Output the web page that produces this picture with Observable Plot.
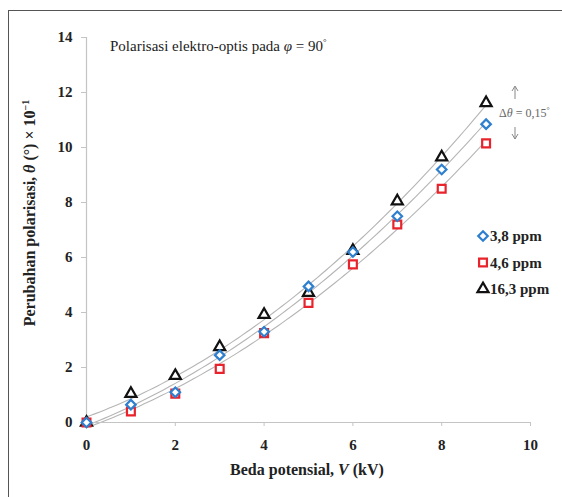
<!DOCTYPE html>
<html>
<head>
<meta charset="utf-8">
<script src="https://cdn.jsdelivr.net/npm/d3@7"></script>
<script src="https://cdn.jsdelivr.net/npm/@observablehq/plot@0.6"></script>
<style>
  html, body { margin: 0; padding: 0; background: #fff; }
  #wrap { position: relative; width: 562px; height: 497px; overflow: hidden; }
  #frame { position: absolute; left: 8px; top: 10px; width: 600px; height: 600px;
           border-top: 1.5px solid #555; border-left: 1.5px solid #555; pointer-events: none; }
  #wrap svg { position: absolute; left: 0; top: 0; }
</style>
</head>
<body>
<div id="wrap"><div id="frame"></div></div>
<script>
// Data
const voltage = [0, 1, 2, 3, 4, 5, 6, 7, 8, 9];
const seriesNames = ["3,8 ppm", "4,6 ppm", "16,3 ppm"];
const theta38  = [0, 0.65, 1.10, 2.45, 3.30, 4.95, 6.20, 7.50, 9.20, 10.85];
const theta46  = [0, 0.40, 1.05, 1.95, 3.25, 4.35, 5.75, 7.20, 8.50, 10.15];
const theta163 = [0, 1.05, 1.70, 2.75, 3.92, 4.72, 6.25, 8.05, 9.65, 11.62];
const xTicks = [0, 2, 4, 6, 8, 10];
const yTicks = [0, 2, 4, 6, 8, 10, 12, 14];

const colors = {"3,8 ppm": "#2f7fcf", "4,6 ppm": "#e8232b", "16,3 ppm": "#111111"};
const symbols = {"3,8 ppm": "diamond2", "4,6 ppm": "square2", "16,3 ppm": "triangle2"};
const radii = {"3,8 ppm": 4.3, "4,6 ppm": 5, "16,3 ppm": 5.3};

const seriesValues = [theta38, theta46, theta163];
const points = [];
seriesNames.forEach((s, i) => voltage.forEach((v, j) => points.push({series: s, V: v, theta: seriesValues[i][j]})));

// quadratic least-squares trend line for each series
function quadFit(xs, ys) {
  let S = Array(5).fill(0), T = Array(3).fill(0);
  xs.forEach((x, i) => {
    for (let k = 0; k < 5; k++) S[k] += x ** k;
    for (let k = 0; k < 3; k++) T[k] += ys[i] * x ** k;
  });
  const A = [[S[0], S[1], S[2], T[0]], [S[1], S[2], S[3], T[1]], [S[2], S[3], S[4], T[2]]];
  for (let c = 0; c < 3; c++) {
    for (let r = c + 1; r < 3; r++) {
      const f = A[r][c] / A[c][c];
      for (let k = c; k < 4; k++) A[r][k] -= f * A[c][k];
    }
  }
  const b = [0, 0, 0];
  for (let r = 2; r >= 0; r--) {
    let s = A[r][3];
    for (let k = r + 1; k < 3; k++) s -= A[r][k] * b[k];
    b[r] = s / A[r][r];
  }
  return x => b[0] + b[1] * x + b[2] * x * x;
}
const trend = [];
seriesNames.forEach((s, i) => {
  const f = quadFit(voltage, seriesValues[i]);
  d3.range(0, 9.001, 0.1).forEach(x => trend.push({series: s, V: x, theta: f(x)}));
});

const font = "'Liberation Serif', 'Times New Roman', serif";

const plot = Plot.plot({
  width: 562,
  height: 497,
  marginLeft: 86,
  marginRight: 32,
  marginTop: 37,
  marginBottom: 75,
  style: {fontFamily: font, background: "transparent", overflow: "visible"},
  x: {domain: [0, 10]},
  y: {domain: [0, 14]},
  r: {type: "identity"},
  symbol: {type: "identity"},
  color: {type: "identity"},
  marks: [
    Plot.line(trend, {x: "V", y: "theta", z: "series", stroke: "#b5b5b5", strokeWidth: 1.1}),
    Plot.ruleY([0], {stroke: "#c4c4c4", strokeWidth: 1.2}),
    Plot.ruleX([0], {stroke: "#c4c4c4", strokeWidth: 1.2}),
    Plot.axisX({ticks: xTicks, tickSize: 4, tickPadding: 13, stroke: "#c4c4c4",
      tickFormat: d => String(d), label: null, fontSize: 15, fontWeight: "bold", fill: "#222"}),
    Plot.axisY({ticks: yTicks, tickSize: 5, tickPadding: 9, stroke: "#c4c4c4",
      tickFormat: d => String(d), label: null, fontSize: 15, fontWeight: "bold", fill: "#222"}),
    Plot.dot(points, {x: "V", y: "theta",
      symbol: d => symbols[d.series], r: d => radii[d.series],
      stroke: d => colors[d.series], fill: "white", strokeWidth: 2.2})
  ]
});

document.getElementById("wrap").appendChild(plot);
const svg = d3.select(plot);
const g = svg.append("g").attr("text-anchor", "start");

// Title
const title = g.append("text").attr("x", 110).attr("y", 51)
  .attr("font-family", font).attr("font-size", 15).attr("fill", "#222");
title.append("tspan").text("Polarisasi elektro-optis pada ");
title.append("tspan").attr("font-style", "italic").text("φ");
title.append("tspan").text(" = 90");
title.append("tspan").attr("font-size", 9).attr("dy", -6).text("°");

// Y label
const yl = svg.append("text").attr("transform", "translate(35,213) rotate(-90)")
  .attr("text-anchor", "middle").attr("font-family", font).attr("font-size", 16)
  .attr("font-weight", "bold").attr("fill", "#222");
yl.append("tspan").text("Perubahan polarisasi, ");
yl.append("tspan").attr("font-style", "italic").text("θ");
yl.append("tspan").text(" (°) × 10");
yl.append("tspan").attr("font-size", 10).attr("dy", -6).text("−1");

// X label
const xl = svg.append("text").attr("x", 307).attr("y", 475).attr("text-anchor", "middle")
  .attr("font-family", font).attr("font-size", 16).attr("font-weight", "bold").attr("fill", "#222");
xl.append("tspan").text("Beda potensial, ");
xl.append("tspan").attr("font-style", "italic").text("V");
xl.append("tspan").text(" (kV)");

// Legend
seriesNames.forEach((s, i) => {
  const y = 236 + i * 26.5;
  const size = Math.PI * radii[s] ** 2;
  const sym = {diamond2: d3.symbolDiamond2, square2: d3.symbolSquare2, triangle2: d3.symbolTriangle2}[symbols[s]];
  g.append("path").attr("d", d3.symbol(sym, size)())
    .attr("transform", `translate(483,${y})`).attr("fill", "white")
    .attr("stroke", colors[s]).attr("stroke-width", 2.2);
  g.append("text").attr("x", 490).attr("y", y + 5).attr("font-family", font)
    .attr("font-size", 15).attr("font-weight", "bold").attr("fill", "#222").text(s);
});

// Δθ annotation
const ann = g.append("text").attr("x", 499).attr("y", 117).attr("font-family", font)
  .attr("font-size", 12).attr("fill", "#666");
ann.append("tspan").text("Δ");
ann.append("tspan").attr("font-style", "italic").text("θ");
ann.append("tspan").text(" = 0,15");
ann.append("tspan").attr("font-size", 8).attr("dy", -4).text("°");
g.append("path").attr("d", "M515,99V87M512,91L515,86L518,91")
  .attr("fill", "none").attr("stroke", "#888").attr("stroke-width", 1);
g.append("path").attr("d", "M515,127V139M512,134L515,139L518,134")
  .attr("fill", "none").attr("stroke", "#888").attr("stroke-width", 1);
</script>
</body>
</html>
